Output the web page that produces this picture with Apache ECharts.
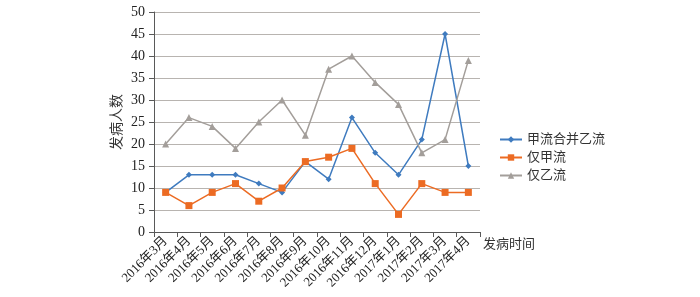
<!DOCTYPE html>
<html><head><meta charset="utf-8">
<script src="https://cdn.jsdelivr.net/npm/echarts@6/dist/echarts.min.js"></script>
<style>html,body{margin:0;padding:0;background:#fff}#c{width:700px;height:297px}</style>
</head><body><div id="c"></div>
<script>
var categories = ['2016年3月','2016年4月','2016年5月','2016年6月','2016年7月','2016年8月','2016年9月','2016年10月','2016年11月','2016年12月','2017年1月','2017年2月','2017年3月','2017年4月'];
var seriesNames = ['甲流合并乙流','仅甲流','仅乙流'];
var combined = [9,13,13,13,11,9,16,12,26,18,13,21,45,15];
var fluAOnly = [9,6,9,11,7,10,16,17,19,11,4,11,9,9];
var fluBOnly = [20,26,24,19,25,30,22,37,40,34,29,18,21,39];
var yAxisName = '发病人数';
var xAxisName = '发病时间';

var FONT = '"Liberation Serif", "Noto Sans CJK SC", serif';
var chart = echarts.init(document.getElementById('c'));
chart.setOption({
  animation: false,
  textStyle: {fontFamily: FONT},
  grid: {left: 154, right: 220, top: 12, bottom: 65, containLabel: false},
  legend: {
    orient: 'vertical', left: 494, top: 128, itemGap: 5,
    itemWidth: 22, itemHeight: 8,
    textStyle: {fontFamily: FONT, fontSize: 13, color: '#333'},
    data: seriesNames
  },
  xAxis: {
    type: 'category', data: categories, boundaryGap: true,
    name: xAxisName, nameLocation: 'end', nameGap: 3,
    nameTextStyle: {fontFamily: FONT, fontSize: 13, color: '#333', verticalAlign: 'top', padding: [6,0,0,0]},
    axisLine: {lineStyle: {color: '#595959', width: 1}},
    axisTick: {show: true, length: 5, lineStyle: {color: '#595959'}},
    axisLabel: {rotate: 45, fontSize: 13, color: '#222', fontFamily: FONT, margin: 7, interval: 0}
  },
  yAxis: {
    type: 'value', min: 0, max: 50, interval: 5,
    name: yAxisName, nameLocation: 'middle', nameRotate: 90, nameGap: 30,
    nameTextStyle: {fontFamily: FONT, fontSize: 14, color: '#333'},
    axisLine: {show: true, lineStyle: {color: '#595959', width: 1}},
    axisTick: {show: true, length: 5, lineStyle: {color: '#595959'}},
    axisLabel: {fontSize: 14, color: '#222', fontFamily: FONT, margin: 9},
    splitLine: {lineStyle: {color: '#b8b4b0', width: 1}}
  },
  series: [
    {name: seriesNames[0], type: 'line', data: combined, symbol: 'diamond', symbolSize: 6,
     lineStyle: {color: '#3f7bbf', width: 1.5}, itemStyle: {color: '#3f7bbf'}},
    {name: seriesNames[1], type: 'line', data: fluAOnly, symbol: 'rect', symbolSize: 7,
     lineStyle: {color: '#ec6b23', width: 1.5}, itemStyle: {color: '#ec6b23'}},
    {name: seriesNames[2], type: 'line', data: fluBOnly, symbol: 'triangle', symbolSize: 7,
     lineStyle: {color: '#a39e9a', width: 1.5}, itemStyle: {color: '#a39e9a'}}
  ]
});
</script></body></html>
